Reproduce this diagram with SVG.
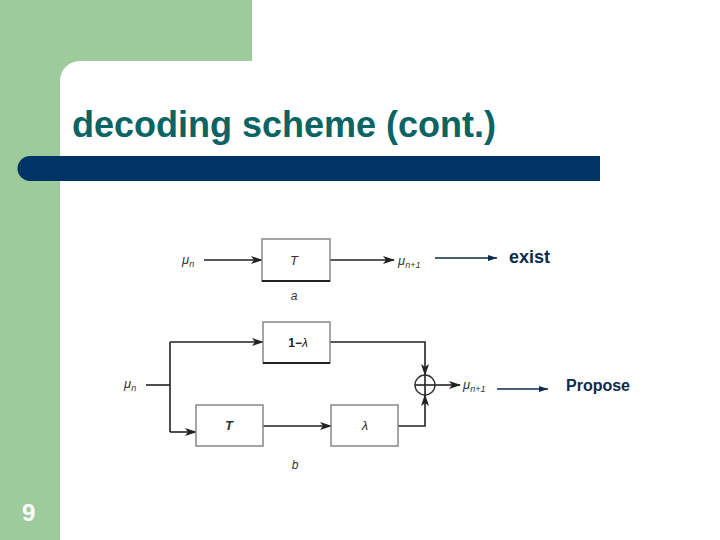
<svg xmlns="http://www.w3.org/2000/svg" width="720" height="540" viewBox="0 0 720 540">
<style>
.ln{stroke:#222;stroke-width:1.6;fill:none}
.bx{fill:#fff;stroke:#888;stroke-width:1.5}
.sh{stroke:#222;stroke-width:2;fill:none}
.it{font-family:"Liberation Sans",Arial,sans-serif;font-style:italic;fill:#333}
.lb{font-family:"Liberation Sans",Arial,sans-serif;fill:#222}
</style>
<defs>
<marker id="ah" markerWidth="12" markerHeight="8" refX="11" refY="4" orient="auto" markerUnits="userSpaceOnUse"><path d="M0,0 L12,4 L0,8 L3,4 Z" fill="#222"/></marker>
<marker id="bh" markerWidth="9" markerHeight="6" refX="9" refY="3" orient="auto" markerUnits="userSpaceOnUse"><path d="M0,0 L9,3 L0,6 Z" fill="#0d2b4d"/></marker>
</defs>
<rect x="0" y="0" width="720" height="540" fill="#fff"/>
<g id="background">
<rect x="0" y="0" width="60" height="540" fill="#9ecb9c"/>
<rect x="0" y="0" width="252" height="61" fill="#9ecb9c"/>
<path d="M60,61 L80,61 A20,20 0 0 0 60,81 Z" fill="#9ecb9c"/>
<path d="M30,156 L600,156 L600,181 L30,181 A12.5,12.5 0 0 1 30,156 Z" fill="#003366"/>
</g>
<text id="title" x="72" y="137" font-family="Liberation Sans,Arial,sans-serif" font-size="36" font-weight="bold" fill="#0a6464">decoding scheme (cont.)</text>
<text id="pagenum" x="22" y="521" font-family="Liberation Sans,Arial,sans-serif" font-size="24" font-weight="bold" fill="#fff">9</text>
<g id="connectors">
<line class="ln" x1="204" y1="260" x2="262" y2="260" marker-end="url(#ah)"/>
<line class="ln" x1="330" y1="260" x2="394" y2="260" marker-end="url(#ah)"/>
<line class="ln" x1="146" y1="385" x2="170" y2="385"/>
<polyline class="ln" points="170,342 170,432"/>
<line class="ln" x1="170" y1="342" x2="263" y2="342" marker-end="url(#ah)"/>
<line class="ln" x1="170" y1="432" x2="196" y2="432" marker-end="url(#ah)"/>
<line class="ln" x1="263" y1="426" x2="331" y2="426" marker-end="url(#ah)"/>
<polyline class="ln" points="330,342 425,342 425,375" marker-end="url(#ah)"/>
<polyline class="ln" points="398,426 425,426 425,395" marker-end="url(#ah)"/>
<line class="ln" x1="435" y1="385" x2="460" y2="385" marker-end="url(#ah)"/>
<line x1="435" y1="258" x2="497" y2="258" stroke="#0d2b4d" stroke-width="1.6" marker-end="url(#bh)"/>
<line x1="497" y1="389" x2="548" y2="389" stroke="#0d2b4d" stroke-width="1.6" marker-end="url(#bh)"/>
</g>
<g id="boxT1">
<rect class="bx" x="262" y="239" width="68" height="42"/>
<line class="sh" x1="262" y1="281" x2="330" y2="281"/>
<text class="it" x="294" y="265" font-size="13" text-anchor="middle">T</text>
</g>
<g id="boxOneMinusLambda">
<rect class="bx" x="263" y="322" width="67" height="41"/>
<line class="sh" x1="263" y1="363" x2="330" y2="363"/>
<text class="lb" x="298" y="347" font-size="12" text-anchor="middle" font-weight="bold">1−<tspan font-style="italic" font-weight="normal">λ</tspan></text>
</g>
<g id="boxT2">
<rect class="bx" x="196" y="405" width="67" height="41"/>
<text class="it" x="229" y="430" font-size="13" font-weight="bold" text-anchor="middle">T</text>
</g>
<g id="boxLambda">
<rect class="bx" x="331" y="405" width="67" height="41"/>
<text class="it" x="365" y="430" font-size="13" text-anchor="middle">λ</text>
</g>
<g id="sum">
<circle cx="425" cy="385" r="10" fill="#fff" stroke="#333" stroke-width="1.4"/>
<line class="ln" x1="415" y1="385" x2="435" y2="385"/>
<line class="ln" x1="425" y1="375" x2="425" y2="395"/>
</g>
<g id="labels">
<text class="it" x="182" y="264" font-size="13">μ<tspan font-size="9" dy="3">n</tspan></text>
<text class="it" x="398" y="265" font-size="13">μ<tspan font-size="9" dy="3">n+1</tspan></text>
<text class="it" x="294" y="300" font-size="12" text-anchor="middle">a</text>
<text class="it" x="124" y="388" font-size="13">μ<tspan font-size="9" dy="3">n</tspan></text>
<text class="it" x="463" y="389" font-size="13">μ<tspan font-size="9" dy="3">n+1</tspan></text>
<text class="it" x="295" y="469" font-size="12" text-anchor="middle">b</text>
<text x="509" y="263" font-family="Liberation Sans,Arial,sans-serif" font-size="18" font-weight="bold" fill="#0d2b4d">exist</text>
<text x="566" y="391" font-family="Liberation Sans,Arial,sans-serif" font-size="16" font-weight="bold" fill="#0d2b4d">Propose</text>
</g>
</svg>
